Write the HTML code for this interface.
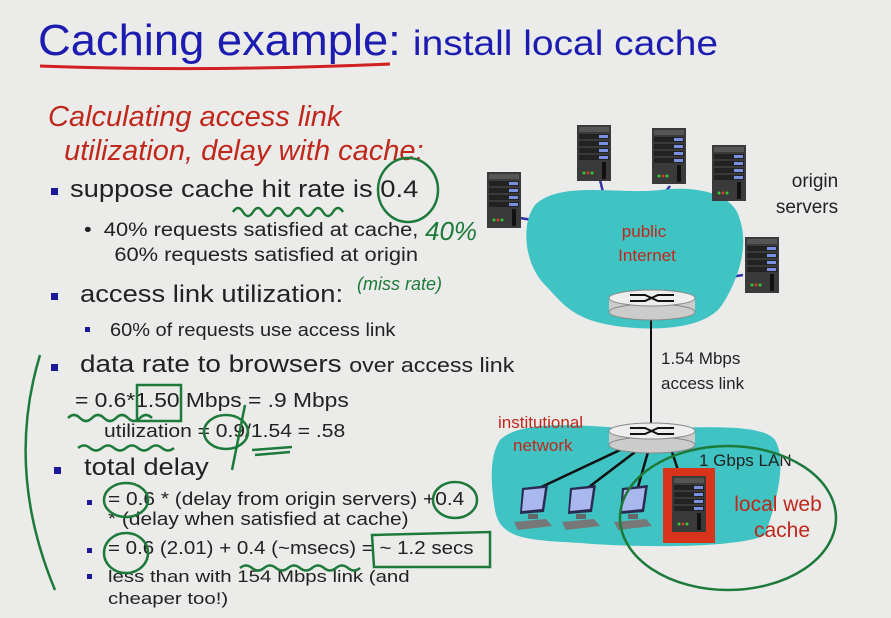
<!DOCTYPE html>
<html><head><meta charset="utf-8"><style>
body{margin:0;width:891px;height:618px;background:#ebebea;overflow:hidden;position:relative;font-family:"Liberation Sans",sans-serif;color:#222}
.t{position:absolute;white-space:nowrap;transform-origin:0 0}
.b{position:absolute;width:7px;height:7px;background:#1a1a9a}
</style></head><body>
<div class="t" style="left:38px;top:16px;font-size:44px;color:#1c1cb0;transform:scaleX(1.03)">Caching example: <span style="font-size:35px;display:inline-block;transform:scaleX(1.08);transform-origin:0 0">install local cache</span></div>
<div class="t" style="left:48px;top:100px;font-size:29px;color:#c0281c;font-style:italic;line-height:34px">Calculating access link<br>&nbsp;&nbsp;utilization, delay with cache:</div>
<div class="b" style="left:51px;top:188px"></div>
<div class="t" style="left:70px;top:176px;font-size:24px;transform:scaleX(1.14)">suppose cache hit rate is 0.4</div>
<div class="t" style="left:84px;top:218px;font-size:19px;line-height:25px;transform:scaleX(1.15)">•&nbsp; 40% requests satisfied at cache,<br>&nbsp;&nbsp;&nbsp;&nbsp; 60% requests satisfied at origin</div>
<div class="b" style="left:51px;top:293px"></div>
<div class="t" style="left:80px;top:281px;font-size:24px;transform:scaleX(1.14)">access link utilization:</div>
<div class="b" style="left:85px;top:327px;width:5px;height:5px"></div>
<div class="t" style="left:110px;top:320px;font-size:18px;transform:scaleX(1.11)">60% of requests use access link</div>
<div class="b" style="left:51px;top:364px"></div>
<div class="t" style="left:80px;top:351px;font-size:24px;transform:scaleX(1.16)">data rate to browsers <span style="font-size:20px">over access link</span></div>
<div class="t" style="left:75px;top:390px;font-size:20px;transform:scaleX(1.14)">= 0.6*1.50 Mbps = .9 Mbps</div>
<div class="t" style="left:104px;top:421px;font-size:18px;transform:scaleX(1.17)">utilization = 0.9/1.54 = .58</div>
<div class="b" style="left:54px;top:467px"></div>
<div class="t" style="left:84px;top:454px;font-size:24px;transform:scaleX(1.14)">total delay</div>
<div class="b" style="left:87px;top:500px;width:5px;height:5px"></div>
<div class="t" style="left:108px;top:489px;font-size:18px;line-height:20px;transform:scaleX(1.16)">= 0.6 * (delay from origin servers) +0.4<br>* (delay when satisfied at cache)</div>
<div class="b" style="left:87px;top:548px;width:5px;height:5px"></div>
<div class="t" style="left:108px;top:538px;font-size:18px;transform:scaleX(1.14)">= 0.6 (2.01) + 0.4 (~msecs) = ~ 1.2 secs</div>
<div class="b" style="left:87px;top:574px;width:5px;height:5px"></div>
<div class="t" style="left:108px;top:566px;font-size:17px;line-height:22px;transform:scaleX(1.2)">less than with 154 Mbps link (and<br>cheaper too!)</div>

<svg width="891" height="618" style="position:absolute;left:0;top:0" xmlns="http://www.w3.org/2000/svg">
<defs>
<g id="srv"><rect x="0" y="0" width="34" height="56" fill="#3a3a3a"/><rect x="2" y="2" width="30" height="5" fill="#555"/>
<rect x="2" y="9" width="30" height="5" fill="#222"/><rect x="22" y="10" width="9" height="3" fill="#7b8fe0"/>
<rect x="2" y="16" width="30" height="5" fill="#222"/><rect x="22" y="17" width="9" height="3" fill="#7b8fe0"/>
<rect x="2" y="23" width="30" height="5" fill="#222"/><rect x="22" y="24" width="9" height="3" fill="#7b8fe0"/>
<rect x="2" y="30" width="30" height="5" fill="#222"/><rect x="22" y="31" width="9" height="3" fill="#7b8fe0"/>
<rect x="25" y="37" width="4" height="17" fill="#111"/><circle cx="7" cy="48" r="1.5" fill="#3c3"/><circle cx="11" cy="48" r="1.5" fill="#d33"/><circle cx="15" cy="48" r="1.5" fill="#3c3"/></g>
<g id="pc"><path d="M8 0 L34 -3 L30 24 L6 26Z" fill="#2a2a50"/><path d="M10 2 L31 0 L28 21 L8 23Z" fill="#a9b8ee"/>
<rect x="14" y="26" width="10" height="5" fill="#666"/><path d="M0 34 L32 31 L38 38 L4 42Z" fill="#777"/></g>
</defs>
<path d="M40 66 Q200 72 390 64" stroke="#d02020" stroke-width="3" fill="none"/>
<g stroke="#3333aa" stroke-width="2.5"><line x1="600" y1="180" x2="605" y2="200"/><line x1="670" y1="186" x2="662" y2="196"/><line x1="720" y1="200" x2="712" y2="212"/><line x1="520" y1="218" x2="545" y2="222"/><line x1="743" y1="275" x2="730" y2="277"/></g>
<path d="M535 205 C560 180 620 195 660 190 C700 185 735 195 740 220 C750 250 735 285 722 305 C705 330 650 332 610 325 C570 318 560 300 545 285 C525 265 520 225 535 205Z" fill="#3fc3c3"/>
<path d="M500 440 C520 420 580 425 620 428 C680 430 760 420 775 440 C790 465 770 520 765 535 C740 548 640 548 580 543 C530 540 500 540 495 510 C490 480 490 455 500 440Z" fill="#3fc3c3"/>
<use href="#srv" x="577" y="125"/><use href="#srv" x="652" y="128"/><use href="#srv" x="712" y="145"/><use href="#srv" x="487" y="172"/><use href="#srv" x="745" y="237"/>
<line x1="651" y1="315" x2="651" y2="430" stroke="#111" stroke-width="2"/>
<g stroke="#111" stroke-width="2.5"><line x1="620" y1="450" x2="535" y2="490"/><line x1="635" y1="452" x2="585" y2="490"/><line x1="648" y1="452" x2="638" y2="487"/><line x1="672" y1="452" x2="678" y2="470"/></g>
<g><rect x="609" y="298" width="86" height="14" fill="#ccc"/><ellipse cx="652" cy="312" rx="43" ry="8" fill="#ccc" stroke="#888"/><ellipse cx="652" cy="298" rx="43" ry="8" fill="#eee" stroke="#888"/><path d="M630 295 H645 L658 301 H674 M630 301 H645 L658 295 H674" stroke="#111" stroke-width="2" fill="none"/></g>
<g><rect x="609" y="431" width="86" height="14" fill="#ccc"/><ellipse cx="652" cy="445" rx="43" ry="8" fill="#ccc" stroke="#888"/><ellipse cx="652" cy="431" rx="43" ry="8" fill="#eee" stroke="#888"/><path d="M630 428 H645 L658 434 H674 M630 434 H645 L658 428 H674" stroke="#111" stroke-width="2" fill="none"/></g>
<use href="#pc" x="514" y="488"/><use href="#pc" x="562" y="488"/><use href="#pc" x="614" y="488"/>
<rect x="663" y="468" width="52" height="75" fill="#d8341c"/><use href="#srv" x="672" y="476"/>
<g font-family="Liberation Sans,sans-serif">
<text x="644" y="237" font-size="17" fill="#c0281c" text-anchor="middle">public</text>
<text x="647" y="261" font-size="17" fill="#c0281c" text-anchor="middle">Internet</text>
<text x="815" y="187" font-size="19" fill="#222" text-anchor="middle">origin</text>
<text x="807" y="213" font-size="19" fill="#222" text-anchor="middle">servers</text>
<text x="661" y="364" font-size="17" fill="#222">1.54 Mbps</text>
<text x="661" y="389" font-size="17" fill="#222">access link</text>
<text x="498" y="428" font-size="17" fill="#c0281c">institutional</text>
<text x="513" y="451" font-size="17" fill="#c0281c">network</text>
<text x="699" y="466" font-size="17" fill="#222">1 Gbps LAN</text>
<text x="778" y="511" font-size="21" fill="#c0281c" text-anchor="middle">local web</text>
<text x="782" y="537" font-size="21" fill="#c0281c" text-anchor="middle">cache</text>
</g>
<g stroke="#1d7a3a" stroke-width="2.5" fill="none">
<ellipse cx="728" cy="518" rx="108" ry="72"/>
<ellipse cx="408" cy="190" rx="30" ry="32"/>
<path d="M233 212 q5 -8 10 0 q5 8 10 0 q5 -8 10 0 q5 8 10 0 q5 -8 10 0 q5 8 10 0 q5 -8 10 0 q5 8 10 0 q5 -8 10 0 q5 8 10 0 q5 -8 10 0"/>
<path d="M40 355 Q5 470 55 590"/>
<path d="M68 418 q6 -6 12 0 q6 6 12 0 q6 -6 12 0 q6 6 12 0 q6 -6 12 0 q6 6 12 0 q6 -6 12 0"/>
<rect x="137" y="385" width="44" height="36"/>
<path d="M78 448 q6 -5 12 0 q6 5 12 0 q6 -5 12 0 q6 5 12 0 q6 -5 12 0 q6 5 12 0 q6 -5 12 0 q6 5 12 0"/>
<ellipse cx="226" cy="432" rx="22" ry="17"/><path d="M245 405 L232 470"/><path d="M252 450 L292 447 M255 455 L290 452"/>
<ellipse cx="126" cy="500" rx="22" ry="17"/><ellipse cx="455" cy="500" rx="22" ry="18"/>
<ellipse cx="126" cy="553" rx="22" ry="20"/>
<path d="M240 568 q6 -5 12 0 q6 5 12 0 q6 -5 12 0 q6 5 12 0 q6 -5 12 0 q6 5 12 0 q6 -5 12 0 q6 5 12 0 q6 -5 12 0 q6 5 12 0"/>
<path d="M372 535 L490 532 L490 567 L374 567 Z"/>
</g>
<g fill="#1d7a3a" font-family="Liberation Sans,sans-serif" font-style="italic">
<text x="425" y="240" font-size="26">40%</text>
<text x="357" y="290" font-size="18">(miss rate)</text>
</g>
</svg>
</body></html>
